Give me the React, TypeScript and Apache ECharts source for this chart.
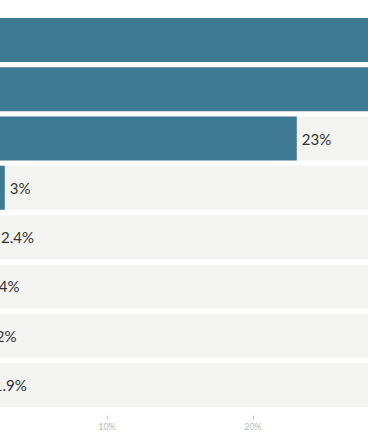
import React, { useEffect, useRef } from "react";
import * as echarts from "echarts";

const categories = ["Option A", "Option B", "Option C", "Option D", "Option E", "Option F", "Option G", "Option H"];
const values = [34, 29, 23, 3, 2.4, 1.4, 1.2, 1.9];
const xTicks = [0, 10, 20, 30];

export default function App() {
  const ref = useRef<HTMLDivElement>(null);
  useEffect(() => {
    if (!ref.current) return;
    const chart = echarts.init(ref.current, null, { renderer: "svg" });
    chart.setOption({
      animation: false,
      grid: { left: 21, right: 28, top: 15.35, bottom: 35.35, containLabel: false },
      xAxis: {
        type: "value",
        min: xTicks[0],
        max: 35,
        interval: 10,
        offset: 6,
        axisLine: { show: false },
        axisTick: { show: true, length: 4, lineStyle: { color: "#c8c8c8", width: 1 } },
        splitLine: { show: false },
        axisLabel: {
          formatter: (v: number) => (xTicks.includes(v) ? v + "%" : ""),
          color: "#b8b8b8",
          fontSize: 9,
          fontFamily: "Lato",
          margin: 6,
        },
      },
      yAxis: {
        type: "category",
        data: categories,
        inverse: true,
        axisLine: { show: false },
        axisTick: { show: false },
        axisLabel: { show: false },
      },
      series: [
        {
          type: "bar",
          data: values,
          barWidth: 44,
          showBackground: true,
          backgroundStyle: { color: "#f4f4f2" },
          itemStyle: { color: "#3e7a94" },
          label: {
            show: true,
            position: "right",
            distance: 5,
            formatter: (p: any) => p.value + "%",
            color: "#333333",
            fontSize: 15,
            fontFamily: "Lato",
          },
        },
      ],
    });
    return () => chart.dispose();
  }, []);
  return (
    <div style={{ position: "fixed", left: 0, top: 0, width: 368, height: 445, overflow: "hidden", background: "#fff" }}>
      <div ref={ref} style={{ position: "absolute", left: -60, top: 0, width: 560, height: 445 }} />
    </div>
  );
}
